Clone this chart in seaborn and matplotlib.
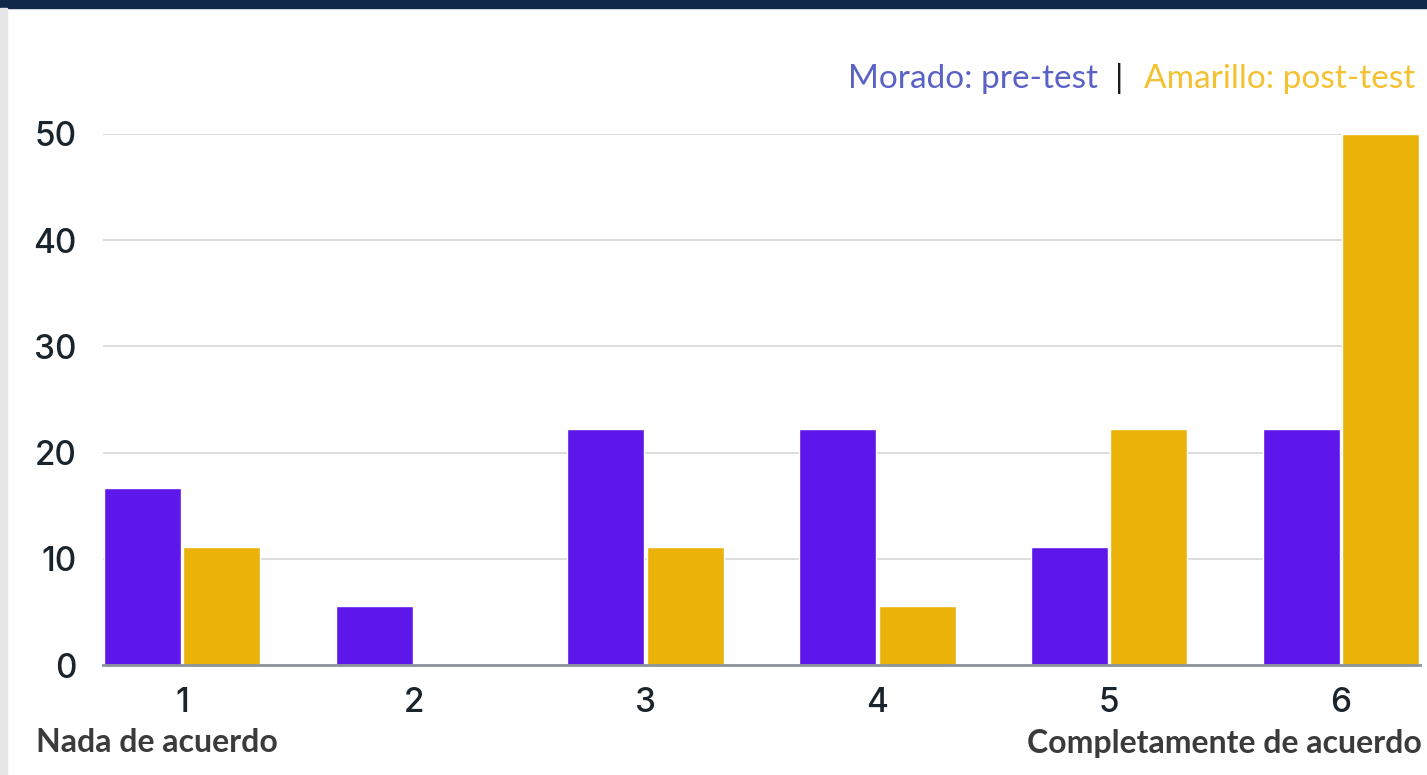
import numpy as np
import pandas as pd
import matplotlib
matplotlib.use('Agg')
import matplotlib.pyplot as plt
from matplotlib.patches import Rectangle
import seaborn as sns

# Escala de acuerdo (1 = nada, 6 = completamente), % de respuestas
CATEGORIES = ['1', '2', '3', '4', '5', '6']
PRE_TEST = [16.7, 5.6, 22.2, 22.2, 11.1, 22.2]
POST_TEST = [11.1, 0.0, 11.1, 5.6, 22.2, 50.0]
Y_TICKS = [0, 10, 20, 30, 40, 50]

PURPLE = '#5e17eb'
YELLOW = '#ebb30a'

df = pd.DataFrame({
    'nivel': CATEGORIES * 2,
    'valor': PRE_TEST + POST_TEST,
    'grupo': ['pre'] * len(CATEGORIES) + ['post'] * len(CATEGORIES),
})

sns.set_style('white')
plt.rcParams['font.family'] = ['Inter', 'DejaVu Sans']

W, H = 1427, 775
fig = plt.figure(figsize=(W / 100, H / 100), dpi=100)
fig.patch.set_facecolor('white')

# marco: banda superior azul marino y banda izquierda gris
fig.patches.append(Rectangle((0, 1 - 8 / H), 1, 8 / H, transform=fig.transFigure,
                             color='#10294a', zorder=0))
fig.patches.append(Rectangle((0, 0), 7 / W, 1 - 8 / H, transform=fig.transFigure,
                             color='#e6e6e6', zorder=0))

left, right, top, bottom = 103, 1420, 134, 665
ax = fig.add_axes([left / W, 1 - bottom / H, (right - left) / W, (bottom - top) / H])

sns.barplot(data=df, x='nivel', y='valor', hue='grupo', order=CATEGORIES,
            hue_order=['pre', 'post'], palette=[PURPLE, YELLOW],
            width=0.685, gap=0.03, saturation=1, legend=False, ax=ax, zorder=3)

ax.set_xlim(-0.341, 5.341)
ax.set_ylim(0, 50)
ax.set_yticks(Y_TICKS)
ax.set_xlabel('')
ax.set_ylabel('')
ax.grid(axis='y', color='#d3d3d3', linewidth=1.1, zorder=0)
ax.set_axisbelow(True)
for s in ['top', 'right', 'left']:
    ax.spines[s].set_visible(False)
ax.spines['bottom'].set_color('#8c939b')
ax.spines['bottom'].set_linewidth(2)
ax.spines['bottom'].set_zorder(4)
ax.tick_params(axis='both', length=0, labelsize=24, labelcolor='#1a242c')
ax.tick_params(axis='x', pad=16)
ax.tick_params(axis='y', pad=19)
for lbl in ax.get_xticklabels() + ax.get_yticklabels():
    lbl.set_fontweight('medium')

# etiquetas de los extremos
bold_font = dict(fontsize=23, fontweight='bold', color='#3b3b3b',
                 family=['Lato', 'DejaVu Sans'])
fig.text(36 / W, 1 - 743 / H, 'Nada de acuerdo', ha='left', va='center', **bold_font)
fig.text(1422 / W, 1 - 743 / H, 'Completamente de acuerdo', ha='right', va='center',
         **bold_font)

# leyenda en texto
ly = 1 - 79 / H
legend_font = dict(fontsize=24, va='center', family=['Lato', 'DejaVu Sans'])
fig.text(1415 / W, ly, 'Amarillo: post-test', ha='right', color='#f4c130', **legend_font)
fig.text(1119 / W, ly, '|', ha='center', color='#1a1a1a', **legend_font)
fig.text(1098 / W, ly, 'Morado: pre-test', ha='right', color='#5b62c6', **legend_font)

fig.savefig('out.png', dpi=100)
